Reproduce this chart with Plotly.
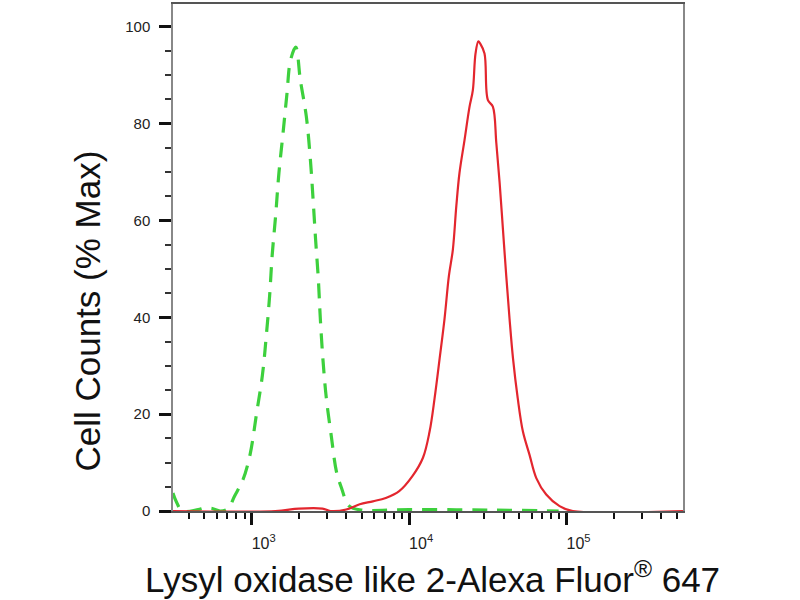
import plotly.graph_objects as go

# isotype control (green dashed) - fluorescence intensity vs % max
ctrl_x = [316, 331, 363, 457, 501, 562, 631, 708, 776, 881, 977, 1072, 1169, 1239,
          1300, 1349, 1419, 1489, 1581, 1675, 1762, 1905, 2037, 2223, 2360, 2455,
          2547, 2649, 2729, 2838, 2979, 3206, 3451, 3715, 4169, 5012, 10000, 31623,
          89125]
ctrl_y = [3.7, 2.0, 0, 0.3, 0.6, 0.5, 0, 0.5, 3.0, 6.5, 11.7, 20, 28, 36.3,
          44.5, 52.8, 61, 69.8, 78, 86.2, 93, 95.8, 89, 81.5, 72.5, 64.3,
          56, 48, 39.7, 31.1, 23.3, 15.4, 8.2, 4.8, 1.0, 0.2, 0.3, 0.2,
          0]

# LOXL2 stained sample (red)
loxl2_x = [316, 1413, 1995, 2818, 3162, 3981, 4853, 5888, 7112, 8650, 10495, 12246,
           13490, 14521, 15631, 16788, 17906, 18967, 19953, 20893, 22491, 24210,
           25410, 26424, 27542, 28314, 30130, 31623, 34041, 35810, 37584, 39446,
           41400, 43451, 45709, 48978, 52845, 58210, 64269, 74302, 90365, 109648,
           549541]
loxl2_y = [0, 0, 0.5, 0.5, 0, 0.3, 1.4, 2.0, 2.7, 4.1, 7.2, 11,
           16.4, 23.3, 31.5, 39.7, 48.6, 54, 63, 69.8, 76.6, 83.5,
           86.9, 94.5, 97, 96.5, 94.5, 84.9, 83.5, 76, 67.8, 58.2,
           48.6, 39.7, 31.5, 23.3, 16.4, 11.6, 6.8, 3.4, 1.0, 0,
           0]

major_ticks = [1000, 10000, 100000]
major_text = ["10<sup>3</sup>", "10<sup>4</sup>", "10<sup>5</sup>"]
minor_x = [m * 10 ** e for e in range(2, 6) for m in range(2, 10)]

fig = go.Figure()
fig.add_trace(go.Scatter(x=ctrl_x, y=ctrl_y, mode="lines", line_shape="spline",
                         line=dict(color="#3dd03d", width=3.2, dash="15px,10px")))
fig.add_trace(go.Scatter(x=loxl2_x, y=loxl2_y, mode="lines", line_shape="spline",
                         line=dict(color="#e3262e", width=2.2)))

fig.update_layout(
    width=800, height=600,
    margin=dict(l=173, r=117, t=2, b=89),
    plot_bgcolor="white", paper_bgcolor="white",
    showlegend=False,
    font=dict(family="Liberation Sans, Arial", color="#222"),
)
fig.update_xaxes(
    type="log", range=[2.5, 5.74],
    tickvals=major_ticks, ticktext=major_text,
    ticks="outside", ticklen=12, tickwidth=3, tickcolor="#111",
    ticklabelstandoff=5, ticklabelshift=12,
    tickfont=dict(size=16, color="#222"),
    minor=dict(tickvals=minor_x, ticks="outside", ticklen=6, tickwidth=1.5, tickcolor="#111"),
    showline=True, linecolor="#555", linewidth=1.5, mirror=True,
    showgrid=False, zeroline=False,
)
fig.update_yaxes(
    range=[0, 104.7],
    tickvals=[0, 20, 40, 60, 80, 100],
    ticks="outside", ticklen=12, tickwidth=3, tickcolor="#111",
    ticklabelstandoff=6,
    tickfont=dict(size=15, color="#222"),
    minor=dict(dtick=5, ticks="outside", ticklen=6, tickwidth=1.5, tickcolor="#333"),
    showline=True, linecolor="#888", linewidth=1.5, mirror=True,
    showgrid=False, zeroline=False,
)

fig.add_annotation(text="Cell Counts (% Max)", xref="paper", yref="paper",
                   x=-0.167, y=0.395, textangle=-90, showarrow=False,
                   xanchor="center", yanchor="middle",
                   font=dict(size=35, color="#111"))
fig.add_annotation(text="Lysyl oxidase like 2-Alexa Fluor<sup>®</sup> 647",
                   xref="paper", yref="paper", x=0.508, y=-0.13,
                   showarrow=False, xanchor="center", yanchor="middle",
                   font=dict(size=35, color="#111"))

# page body has a default 8px margin, drop it so the figure sits at 0,0
fig.write_html("out.html", config={"displayModeBar": False},
               post_script="document.body.style.margin='0';")
